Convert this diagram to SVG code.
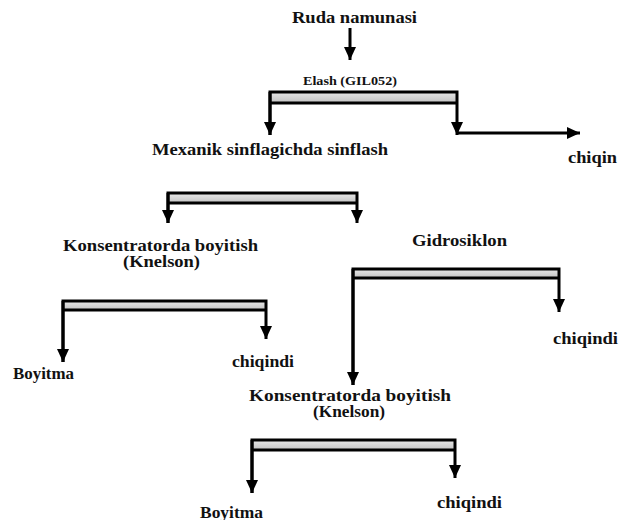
<svg xmlns="http://www.w3.org/2000/svg" width="621" height="520" viewBox="0 0 621 520">
<style>
text{font-family:"Liberation Serif","Times New Roman",serif;font-weight:bold;fill:#111;font-size:16px}
.sm{font-size:12px}
.ln{fill:none;stroke:#000;stroke-width:3;stroke-linejoin:miter}
.bar{fill:url(#g)}
</style>
<defs>
<linearGradient id="g" x1="0" y1="0" x2="0" y2="1">
<stop offset="0" stop-color="#e8e8e8"/>
<stop offset="1" stop-color="#c2c2c2"/>
</linearGradient>
<marker id="ah" viewBox="0 0 13 12" markerWidth="13" markerHeight="12" refX="13" refY="6" orient="auto" markerUnits="userSpaceOnUse">
<path d="M0,0 L13,6 L0,12 z" fill="#000"/>
</marker>
</defs>

<g id="n-ruda"><text x="292" y="23" textLength="125" lengthAdjust="spacingAndGlyphs">Ruda namunasi</text></g>
<g id="n-elash"><text class="sm" x="303" y="85" textLength="94" lengthAdjust="spacingAndGlyphs">Elash (GIL052)</text></g>
<g id="n-mexanik"><text x="152" y="155" textLength="236" lengthAdjust="spacingAndGlyphs">Mexanik sinflagichda sinflash</text></g>
<g id="n-chiqin"><text x="568" y="163" textLength="49" lengthAdjust="spacingAndGlyphs">chiqin</text></g>
<g id="n-kons1">
<text x="63" y="251" textLength="195" lengthAdjust="spacingAndGlyphs">Konsentratorda boyitish</text>
<text x="123" y="267" textLength="77" lengthAdjust="spacingAndGlyphs">(Knelson)</text>
</g>
<g id="n-boyitma1"><text x="13" y="379" textLength="61" lengthAdjust="spacingAndGlyphs">Boyitma</text></g>
<g id="n-chiqindi1"><text x="232" y="367" textLength="62" lengthAdjust="spacingAndGlyphs">chiqindi</text></g>
<g id="n-gidro"><text x="412" y="246" textLength="95" lengthAdjust="spacingAndGlyphs">Gidrosiklon</text></g>
<g id="n-chiqindi2"><text x="553" y="344" textLength="65" lengthAdjust="spacingAndGlyphs">chiqindi</text></g>
<g id="n-kons2">
<text x="249" y="401" textLength="202" lengthAdjust="spacingAndGlyphs">Konsentratorda boyitish</text>
<text x="313" y="417" textLength="72" lengthAdjust="spacingAndGlyphs">(Knelson)</text>
</g>
<g id="n-boyitma2"><text x="200" y="518" textLength="63" lengthAdjust="spacingAndGlyphs">Boyitma</text></g>
<g id="n-chiqindi3"><text x="437" y="508" textLength="65" lengthAdjust="spacingAndGlyphs">chiqindi</text></g>

<g id="connectors">
<path class="ln" d="M350,28 V60" marker-end="url(#ah)"/>
<!-- bracket 1 -->
<rect class="bar" x="270" y="92" width="187" height="11"/>
<path class="ln" d="M270,103 H457"/>
<path class="ln" d="M270,135 V92 H457 V135" marker-end="url(#ah)"/>
<path class="ln" d="M270,92 V135" marker-end="url(#ah)"/>
<path class="ln" d="M457,133 H580" marker-end="url(#ah)"/>
<!-- bracket 2 -->
<rect class="bar" x="168" y="193" width="189" height="10"/>
<path class="ln" d="M168,203 H357"/>
<path class="ln" d="M168,223 V193 H357 V223" marker-end="url(#ah)"/>
<path class="ln" d="M168,193 V223" marker-end="url(#ah)"/>
<!-- bracket 3 -->
<rect class="bar" x="63" y="301" width="203" height="9"/>
<path class="ln" d="M63,310 H266"/>
<path class="ln" d="M63,362 V301 H266 V339" marker-end="url(#ah)"/>
<path class="ln" d="M63,301 V362" marker-end="url(#ah)"/>
<!-- bracket 4 -->
<rect class="bar" x="353" y="269" width="206" height="9"/>
<path class="ln" d="M353,278 H559"/>
<path class="ln" d="M353,385 V269 H559 V312" marker-end="url(#ah)"/>
<path class="ln" d="M353,269 V385" marker-end="url(#ah)"/>
<!-- bracket 5 -->
<rect class="bar" x="252" y="440" width="203" height="10"/>
<path class="ln" d="M252,450 H455"/>
<path class="ln" d="M252,493 V440 H455 V478" marker-end="url(#ah)"/>
<path class="ln" d="M252,440 V493" marker-end="url(#ah)"/>
</g>
</svg>
